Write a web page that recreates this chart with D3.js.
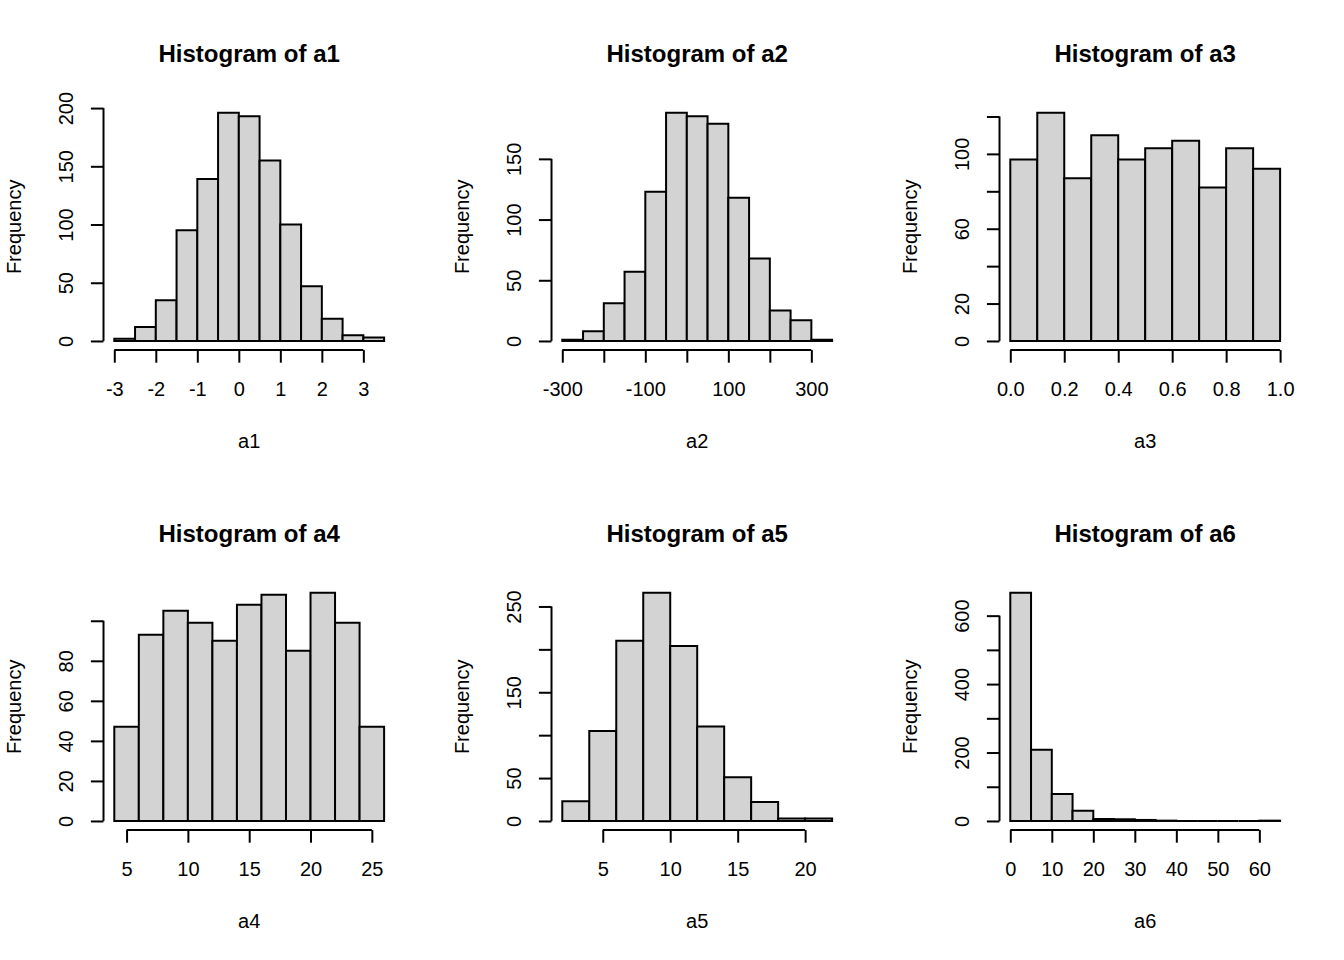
<!DOCTYPE html>
<html>
<head>
<meta charset="utf-8">
<script src="https://cdn.jsdelivr.net/npm/d3@7"></script>
<style>
  body { margin: 0; background: #fff; }
  svg text { font-family: "Liberation Sans", Arial, sans-serif; fill: #000; }
</style>
</head>
<body>
<div id="chart"></div>
<script>

// bin edges + counts
const a1Breaks = [-3, -2.5, -2, -1.5, -1, -0.5, 0, 0.5, 1, 1.5, 2, 2.5, 3, 3.5]
const a1Counts = [2, 12, 35, 95, 139, 196, 193, 155, 100, 47, 19, 5, 3]

const a2Breaks = [-300, -250, -200, -150, -100, -50, 0, 50, 100, 150, 200, 250, 300, 350]
const a2Counts = [1, 8, 31, 57, 123, 188, 185, 179, 118, 68, 25, 17, 1]

const a3Breaks = [0, 0.1, 0.2, 0.3, 0.4, 0.5, 0.6, 0.7, 0.8, 0.9, 1.0]
const a3Counts = [97, 122, 87, 110, 97, 103, 107, 82, 103, 92]

const a4Breaks = [4, 6, 8, 10, 12, 14, 16, 18, 20, 22, 24, 26]
const a4Counts = [47, 93, 105, 99, 90, 108, 113, 85, 114, 99, 47]

const a5Breaks = [2, 4, 6, 8, 10, 12, 14, 16, 18, 20, 22]
const a5Counts = [23, 105, 210, 266, 204, 110, 51, 22, 3, 3]

const a6Breaks = [0, 5, 10, 15, 20, 25, 30, 35, 40, 45, 50, 55, 60, 65]
const a6Counts = [667, 208, 79, 30, 6, 5, 3, 1, 0, 0, 0, 0, 1]

// axis ticks ("" = tick drawn but label dropped, like R does on overlap)
const a1XTicks = [-3, -2, -1, 0, 1, 2, 3]
const a1XLabels = ["-3", "-2", "-1", "0", "1", "2", "3"]
const a1YTicks = [0, 50, 100, 150, 200]
const a1YLabels = ["0", "50", "100", "150", "200"]

const a2XTicks = [-300, -200, -100, 0, 100, 200, 300]
const a2XLabels = ["-300", "", "-100", "", "100", "", "300"]
const a2YTicks = [0, 50, 100, 150]
const a2YLabels = ["0", "50", "100", "150"]

const a3XTicks = [0, 0.2, 0.4, 0.6, 0.8, 1.0]
const a3XLabels = ["0.0", "0.2", "0.4", "0.6", "0.8", "1.0"]
const a3YTicks = [0, 20, 40, 60, 80, 100, 120]
const a3YLabels = ["0", "20", "", "60", "", "100", ""]

const a4XTicks = [5, 10, 15, 20, 25]
const a4XLabels = ["5", "10", "15", "20", "25"]
const a4YTicks = [0, 20, 40, 60, 80, 100]
const a4YLabels = ["0", "20", "40", "60", "80", ""]

const a5XTicks = [5, 10, 15, 20]
const a5XLabels = ["5", "10", "15", "20"]
const a5YTicks = [0, 50, 100, 150, 200, 250]
const a5YLabels = ["0", "50", "", "150", "", "250"]

const a6XTicks = [0, 10, 20, 30, 40, 50, 60]
const a6XLabels = ["0", "10", "20", "30", "40", "50", "60"]
const a6YTicks = [0, 100, 200, 300, 400, 500, 600]
const a6YLabels = ["0", "", "200", "", "400", "", "600"]

const varNames = ["a1", "a2", "a3", "a4", "a5", "a6"]


const panels = [
    {breaks: a1Breaks, counts: a1Counts, xt: a1XTicks, xl: a1XLabels, yt: a1YTicks, yl: a1YLabels},
    {breaks: a2Breaks, counts: a2Counts, xt: a2XTicks, xl: a2XLabels, yt: a2YTicks, yl: a2YLabels},
    {breaks: a3Breaks, counts: a3Counts, xt: a3XTicks, xl: a3XLabels, yt: a3YTicks, yl: a3YLabels},
    {breaks: a4Breaks, counts: a4Counts, xt: a4XTicks, xl: a4XLabels, yt: a4YTicks, yl: a4YLabels},
    {breaks: a5Breaks, counts: a5Counts, xt: a5XTicks, xl: a5XLabels, yt: a5YTicks, yl: a5YLabels},
    {breaks: a6Breaks, counts: a6Counts, xt: a6XTicks, xl: a6XLabels, yt: a6YTicks, yl: a6YLabels},
].map((p, i) => Object.assign(p, {name: varNames[i]}))


const W = 1344, H = 960
const cellW = 448, cellH = 480
// plot region inside each cell (R default margins)
const margin = {top: 103.6, right: 53.1, bottom: 129.9, left: 103.5}
const tickLen = 12.6
const lw = 2

const svg = d3.select("#chart")
    .append("svg")
    .attr("width", W)
    .attr("height", H)
    .style("background", "#fff")


function extend4(lo, hi) {
    // R's xaxs/yaxs = "r": pad range by 4%
    let d = (hi - lo) * 0.04
    return [lo - d, hi + d]
}


function draw_hist(p, idx) {
    let col = idx % 3, row = Math.floor(idx / 3)
    let left = margin.left, right = cellW - margin.right
    let top = margin.top, bottom = cellH - margin.bottom

    let g = svg.append("g")
        .attr("transform", "translate(" + (col * cellW) + "," + (row * cellH) + ")")

    let x = d3.scaleLinear()
        .domain(extend4(p.breaks[0], p.breaks[p.breaks.length - 1]))
        .range([left, right])
    let y = d3.scaleLinear()
        .domain(extend4(0, d3.max(p.counts)))
        .range([bottom, top])

    let bins = p.counts.map((c, i) => [p.breaks[i], p.breaks[i + 1], c])

    // path rather than rect so empty bins still show their outline
    let line = d3.line()
    g.selectAll(".bar")
        .data(bins).enter()
        .append("path")
        .attr("class", "bar")
        .attr("d", d => line([[x(d[0]), y(0)], [x(d[0]), y(d[2])], [x(d[1]), y(d[2])], [x(d[1]), y(0)]]) + "Z")
        .attr("fill", "#d3d3d3")
        .attr("stroke", "#000")
        .attr("stroke-width", lw)
        .attr("stroke-linejoin", "miter")

    // x axis
    let xa = g.append("g")
        .attr("transform", "translate(0," + bottom + ")")
        .call(d3.axisBottom(x).tickValues(p.xt).tickFormat((d, i) => p.xl[i])
            .tickSize(tickLen).tickPadding(19.6))
    xa.select(".domain")
        .attr("d", "M" + x(p.xt[0]) + ",0H" + x(p.xt[p.xt.length - 1]))
    xa.attr("font-size", 20).attr("font-family", null)
    xa.selectAll("line, path").attr("stroke-width", lw)

    // y axis, labels turned to read bottom-up like base R
    let ya = g.append("g")
        .attr("transform", "translate(" + left + ",0)")
        .call(d3.axisLeft(y).tickValues(p.yt).tickFormat((d, i) => p.yl[i]).tickSize(tickLen))
    ya.select(".domain")
        .attr("d", "M0," + y(p.yt[0]) + "V" + y(p.yt[p.yt.length - 1]))
    ya.attr("font-size", 20).attr("font-family", null)
    ya.selectAll("line, path").attr("stroke-width", lw)
    ya.selectAll(".tick text")
        .attr("x", null)
        .attr("dy", null)
        .attr("text-anchor", "middle")
        .attr("transform", "translate(-31,0) rotate(-90)")

    // titles
    let cx = (left + right) / 2
    g.append("text")
        .attr("x", cx)
        .attr("y", top - 42)
        .attr("text-anchor", "middle")
        .attr("font-size", 24)
        .attr("font-weight", "bold")
        .text("Histogram of " + p.name)

    g.append("text")
        .attr("x", cx)
        .attr("y", bottom + 98)
        .attr("text-anchor", "middle")
        .attr("font-size", 20)
        .text(p.name)

    g.append("text")
        .attr("transform", "translate(" + (left - 82.5) + "," + ((top + bottom) / 2) + ") rotate(-90)")
        .attr("text-anchor", "middle")
        .attr("font-size", 20)
        .text("Frequency")
}


panels.forEach((p, i) => draw_hist(p, i))

</script>
</body>
</html>
